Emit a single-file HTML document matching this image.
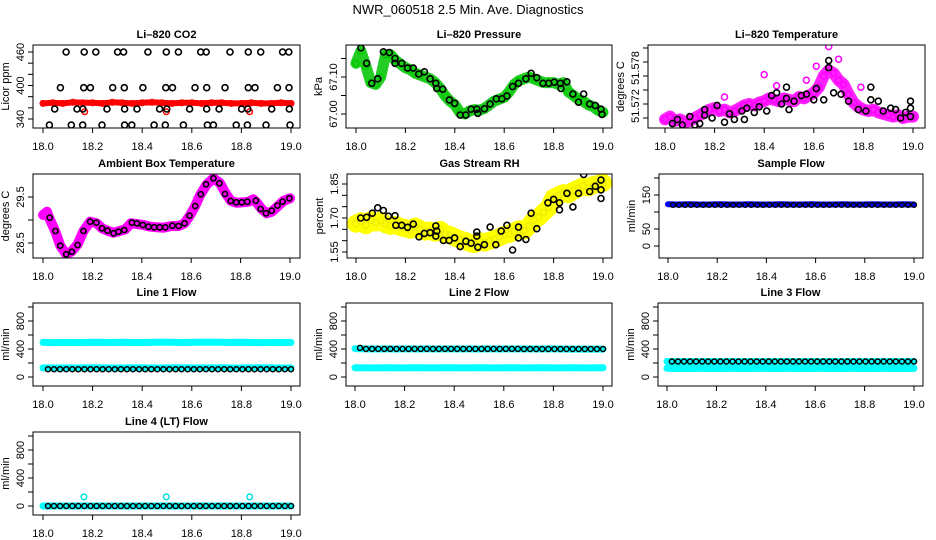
<!DOCTYPE html>
<html><head><meta charset="utf-8"><title>NWR_060518 2.5 Min. Ave. Diagnostics</title>
<style>
html,body{margin:0;padding:0;background:#fff;}
svg{display:block;font-family:"Liberation Sans",Arial,sans-serif;}
.tl{font-size:11px;fill:#000;}
.tt{font-size:11px;font-weight:bold;fill:#000;}
</style></head>
<body>
<svg id="chart" width="936" height="540" viewBox="0 0 936 540" xmlns="http://www.w3.org/2000/svg">
<rect width="936" height="540" fill="#fff"/>
<text x="468" y="14" text-anchor="middle" style="font-size:13px">NWR_060518  2.5 Min. Ave. Diagnostics</text>
</svg>
<script>
// ---------- data ----------
const xTicks=[18.0,18.2,18.4,18.6,18.8,19.0];
const xTickLabels=["18.0","18.2","18.4","18.6","18.8","19.0"];

// CO2
const co2BlackT=[18.093,18.166,18.213,18.301,18.325,18.423,18.497,18.546,18.636,18.658,18.754,18.828,18.878,18.966,18.991,
18.070,18.164,18.191,18.281,18.328,18.403,18.495,18.522,18.613,18.660,18.734,18.828,18.855,18.945,18.992,
18.047,18.137,18.161,18.258,18.329,18.379,18.470,18.499,18.591,18.660,18.710,18.801,18.826,18.922,18.993,
18.026,18.114,18.160,18.238,18.329,18.358,18.448,18.493,18.566,18.663,18.687,18.779,18.824,18.899,18.996];
const co2BlackV=[460,460,460,460,460,460,460,460,460,460,460,460,460,460,460,
396,396,396,396,396,396,396,396,396,396,396,396,396,396,396,
358,358,358,358,358,358,358,358,358,358,358,358,358,358,358,
329,329,329,329,329,329,329,329,329,329,329,329,329,329,329];
const co2RedV=[368,369,368,370,369,369,368,370,369,368,369,370,369,368,369,369,368,369,369,368,368,369,368,368,369,368];
const co2RedOutT=[18.168,18.497,18.833];
const co2RedOutV=[353,353,353];

// Pressure
const presGreenV=[67.137,67.170,67.130,67.085,67.080,67.100,67.160,67.160,67.145,67.135,67.125,67.120,67.110,67.105,67.100,67.095,67.085,67.070,67.050,67.035,67.025,67.005,67.000,67.008,67.012,67.010,67.015,67.025,67.035,67.040,67.045,67.060,67.080,67.090,67.095,67.100,67.095,67.090,67.085,67.085,67.085,67.080,67.085,67.060,67.050,67.040,67.035,67.025,67.020,67.010,67.005];
const presBlackT=[18.020,18.043,18.064,18.088,18.111,18.135,18.158,18.158,18.185,18.209,18.232,18.254,18.277,18.300,18.323,18.327,18.351,18.378,18.399,18.422,18.445,18.466,18.489,18.493,18.520,18.543,18.568,18.591,18.611,18.634,18.658,18.688,18.709,18.732,18.757,18.780,18.803,18.827,18.830,18.854,18.878,18.901,18.922,18.946,18.969,18.992,18.996];
const presBlackV=[67.179,67.137,67.083,67.095,67.168,67.166,67.150,67.137,67.137,67.124,67.124,67.108,67.114,67.095,67.083,67.069,67.067,67.038,67.029,66.997,66.997,67.013,67.013,67.002,67.014,67.027,67.041,67.041,67.049,67.074,67.083,67.095,67.110,67.098,67.083,67.083,67.086,67.083,67.069,67.087,67.054,67.032,67.054,67.027,67.023,67.013,66.999];

// Li-820 temperature
const tempMagV=[51.5709,51.5711,51.5708,51.5709,51.5707,51.5708,51.5710,51.5712,51.5714,51.5716,51.5717,51.5715,51.5716,51.5714,51.5715,51.5717,51.5719,51.5720,51.5719,51.5721,51.5722,51.5724,51.5723,51.5722,51.5724,51.5723,51.5722,51.5725,51.5724,51.5726,51.5728,51.5732,51.5740,51.5744,51.5742,51.5737,51.5734,51.5727,51.5721,51.5718,51.5716,51.5715,51.5716,51.5714,51.5713,51.5712,51.5711,51.5712,51.5710,51.5711,51.5711];
const tempMagOutT=[18.40,18.45,18.66,18.70,18.79,18.24,18.61,18.57];
const tempMagOutV=[51.5741,51.5733,51.5761,51.5752,51.5732,51.5725,51.5747,51.5737];
const tempBlackT=[18.03,18.05,18.07,18.10,18.12,18.14,18.16,18.16,18.19,18.21,18.24,18.26,18.28,18.31,18.32,18.33,18.36,18.38,18.41,18.43,18.45,18.47,18.49,18.49,18.50,18.52,18.55,18.57,18.60,18.61,18.64,18.66,18.66,18.68,18.71,18.74,18.78,18.81,18.83,18.83,18.86,18.88,18.91,18.93,18.95,18.97,18.99,18.99,18.99];
const tempBlackV=[51.5706,51.5709,51.5705,51.5711,51.5705,51.5706,51.5712,51.5716,51.5710,51.5719,51.5707,51.5713,51.5709,51.5715,51.5709,51.5717,51.5714,51.5718,51.5715,51.5726,51.5728,51.5720,51.5724,51.5732,51.5716,51.5722,51.5726,51.5727,51.5723,51.5731,51.5723,51.5751,51.5746,51.5728,51.5727,51.5722,51.5716,51.5715,51.5732,51.5723,51.5722,51.5715,51.5717,51.5716,51.5710,51.5714,51.5711,51.5717,51.5722];

// Ambient box temperature
const boxT=[18.0,18.016,18.026,18.050,18.070,18.093,18.115,18.140,18.164,18.191,18.218,18.239,18.261,18.286,18.310,18.333,18.356,18.380,18.407,18.434,18.461,18.488,18.522,18.549,18.573,18.596,18.616,18.636,18.663,18.690,18.717,18.741,18.761,18.784,18.811,18.832,18.852,18.868,18.885,18.906,18.926,18.946,18.973,19.0];
const boxMagV=[29.109,29.180,29.037,28.746,28.442,28.261,28.311,28.471,28.761,28.963,28.928,28.820,28.768,28.724,28.761,28.797,28.928,28.911,28.891,28.855,28.841,28.833,28.870,28.870,28.928,29.109,29.304,29.543,29.776,29.906,29.797,29.565,29.413,29.376,29.385,29.398,29.450,29.363,29.239,29.146,29.180,29.276,29.413,29.472];
const boxBlackT=[18.027,18.050,18.070,18.094,18.117,18.140,18.164,18.191,18.216,18.239,18.261,18.286,18.306,18.329,18.360,18.380,18.404,18.427,18.450,18.472,18.495,18.524,18.549,18.573,18.593,18.616,18.639,18.660,18.690,18.714,18.737,18.760,18.782,18.805,18.827,18.862,18.881,18.903,18.926,18.949,18.970,18.997];
const boxBlackV=[29.050,28.761,28.442,28.254,28.311,28.457,28.761,28.963,28.942,28.820,28.768,28.710,28.746,28.783,28.942,28.928,28.891,28.855,28.841,28.841,28.841,28.877,28.870,28.928,29.094,29.304,29.558,29.776,29.906,29.797,29.565,29.413,29.384,29.384,29.398,29.420,29.239,29.146,29.203,29.312,29.400,29.472];

// Gas stream RH
const rhYelV=[1.675,1.685,1.668,1.690,1.680,1.688,1.672,1.665,1.670,1.660,1.655,1.648,1.662,1.650,1.640,1.645,1.635,1.648,1.630,1.625,1.615,1.605,1.600,1.590,1.585,1.598,1.592,1.600,1.605,1.615,1.625,1.630,1.640,1.650,1.645,1.665,1.690,1.705,1.725,1.745,1.790,1.800,1.810,1.805,1.820,1.830,1.840,1.835,1.845,1.850,1.855];
const rhBlackT=[18.019,18.043,18.066,18.088,18.111,18.131,18.158,18.161,18.185,18.209,18.232,18.255,18.277,18.300,18.323,18.323,18.327,18.354,18.377,18.399,18.422,18.445,18.466,18.489,18.489,18.493,18.520,18.543,18.566,18.588,18.611,18.634,18.658,18.658,18.688,18.709,18.732,18.777,18.800,18.824,18.824,18.854,18.878,18.901,18.922,18.946,18.969,18.992,18.992,18.992];
const rhBlackV=[1.700,1.703,1.721,1.745,1.733,1.708,1.710,1.668,1.668,1.659,1.673,1.617,1.632,1.635,1.665,1.620,1.642,1.601,1.601,1.612,1.574,1.597,1.589,1.638,1.620,1.571,1.582,1.660,1.582,1.642,1.668,1.559,1.660,1.612,1.605,1.721,1.653,1.767,1.782,1.767,1.736,1.809,1.749,1.809,1.892,1.817,1.840,1.867,1.824,1.786];

// Flows
const sampleBlueV=[123,122,123,122,122,123,122,122,123,122,122,123,122,122,123,122,122,123,122,122,123,122,122,123,122];
const sampleBlackV=[121,121,121,121,121,121,121,121,121,121,121,121,121,121,121,121,121,121,121,121,121,121,121,121,121,121,121,121,121,121,121,121,121,121,121,121,121,121,121,121,121];
const line1CyanHiV=[495,492,495,493,494,497,494,495,496,493,495,497,496,495,494,496,497,496,495,497,494,492,493,494,493];
const line1CyanLoV=[130,128,130,129,130,131,130,129,130,131,130,129,130,131,130,129,130,131,130,129,130,131,130,129,130];
const line1BlackV=[112,112,112,112,112,112,112,112,112,112,112,112,112,112,112,112,112,112,112,112,112,112,112,112,112,112,112,112,112,112,112,112,112,112,112,112,112,112,112,112,112];
const line2CyanHiV=[405,402,400,401,400,402,400,401,400,402,400,401,400,402,400,401,400,402,400,401,400,398,398,398,398];
const line2CyanLoV=[132,130,130,131,130,130,131,130,130,131,130,130,131,130,130,131,130,130,131,130,130,131,130,130,131];
const line2BlackV=[415,402,402,402,402,402,402,402,402,402,402,402,402,402,402,402,402,402,402,402,402,402,402,402,402,402,402,400,400,400,400,400,400,400,400,400,400,400,400,400,400];
const line3CyanHiV=[222,220,221,220,221,220,221,220,221,220,221,220,221,220,221,220,221,220,221,220,221,220,221,220,221];
const line3CyanLoV=[125,122,122,123,122,122,123,122,122,123,122,122,123,122,122,123,122,122,123,122,122,123,122,122,123];
const line3BlackV=[222,222,222,222,222,222,222,222,222,222,222,222,222,222,222,222,222,222,222,222,222,222,222,222,222,222,222,222,222,222,222,222,222,222,222,222,222,222,222,222,222];
const line4CyanV=[0,0,0,0,0,0,0,0,0,0,0,0,0,0,0,0,0,0,0,0,0,0,0,0,0];
const line4CyanOutT=[18.165,18.497,18.833];
const line4CyanOutV=[130,130,130];
const line4BlackV=[0,0,0,0,0,0,0,0,0,0,0,0,0,0,0,0,0,0,0,0,0,0,0,0,0,0,0,0,0,0,0,0,0,0,0,0,0,0,0,0,0];

// ---------- drawing ----------
const NS="http://www.w3.org/2000/svg";
const svg=document.getElementById('chart');
function mk(tag,attrs,parent){const e=document.createElementNS(NS,tag);for(const k in attrs)e.setAttribute(k,attrs[k]);parent.appendChild(e);return e;}
function timesStep(n,start,step){const a=[];for(let i=0;i<n;i++)a.push(start+i*step);return a;}
let clipId=0;
function panel(c){
  const g=mk('g',{},svg);
  
  
  const sx=t=>c.x0+(t-18)*(c.x1-c.x0);
  const sy=v=>c.yp0+(v-c.yv0)*(c.yp1-c.yp0)/(c.yv1-c.yv0);
  const id='cl'+(clipId++);
  const cp=mk('clipPath',{id:id},g);
  mk('rect',{x:c.L,y:c.T,width:c.R-c.L,height:c.B-c.T},cp);
  const data=mk('g',{'clip-path':'url(#'+id+')'},g);
  
  
  const box=mk('rect',{x:c.L,y:c.T,width:c.R-c.L,height:c.B-c.T,fill:'none',stroke:'#000','stroke-width':1},g);
  
  
  const title=mk('text',{x:(c.L+c.R)/2,y:c.T-7,'text-anchor':'middle',class:'tt'},g);
  title.textContent=c.title;
  
  
  xTicks.forEach((t,i)=>{
    mk('line',{x1:sx(t),x2:sx(t),y1:c.B,y2:c.B+5,stroke:'#000'},g);
    const tx=mk('text',{x:sx(t),y:c.B+22,'text-anchor':'middle',class:'tl'},g);
    tx.textContent=xTickLabels[i];
    
    
  });
  c.yTicks.forEach((v,i)=>{
    const y=sy(v);
    mk('line',{x1:c.L-5,x2:c.L,y1:y,y2:y,stroke:'#000'},g);
    const lab=c.yLabels[i];
    if(lab){
      const ty=c.yLabelPos&&c.yLabelPos[i]!=null?c.yLabelPos[i]:y;
      const tx=mk('text',{x:c.L-9,y:ty,'text-anchor':'middle',class:'tl',transform:'rotate(-90 '+(c.L-9)+' '+ty+')'},g);
      tx.textContent=lab;
      
      
    }
  });
  const yc=(c.T+c.B)/2, xt=c.L-24;
  const yt=mk('text',{x:xt,y:yc,'text-anchor':'middle',class:'tl',transform:'rotate(-90 '+xt+' '+yc+')'},g);
  yt.textContent=c.ytitle;
  
  
  return {g:data,sx,sy};
}
function pts(p,ts,vs,color,r,sw,name){
  const g=mk('g',{},p.g);
  
  
  for(let i=0;i<vs.length;i++){
    mk('circle',{cx:p.sx(ts[i]).toFixed(1),cy:p.sy(vs[i]).toFixed(1),r:r,fill:'none',stroke:color,'stroke-width':sw},g);
  }
}
function band(p,ts,vs,color,w,name){
  let d='';
  for(let i=0;i<vs.length;i++)d+=(i?'L':'M')+p.sx(ts[i]).toFixed(1)+','+p.sy(vs[i]).toFixed(1);
  const e=mk('path',{d:d,fill:'none',stroke:color,'stroke-width':w,'stroke-linejoin':'round','stroke-linecap':'round'},p.g);
  
  
}
const t51=timesStep(51,18,0.02);
const t25=timesStep(25,18,1/24);
const t26=timesStep(26,18,0.04);
const t41=timesStep(41,18.02,0.0245);
const flowTicks=[0,200,400,600,800,1000];
const flowLabels=["0","","400","","800",""];

// P1 CO2
let p=panel({name:'panel-li820-co2',title:'Li\u2013820 CO2',ytitle:'Licor ppm',L:33,R:300,T:45,B:128,x0:43,x1:291,yv0:340,yp0:119,yv1:460,yp1:52,
 yTicks:[340,360,380,400,420,440,460],yLabels:["340","","","400","","","460"]});
band(p,t26,co2RedV,'#ff0000',6,'co2-red-band');
pts(p,t26,co2RedV,'#ff0000',2.8,1.5,'co2-red-points');
pts(p,co2RedOutT,co2RedOutV,'#ff0000',2.8,1.5,'co2-red-outliers');
pts(p,co2BlackT,co2BlackV,'#000',3,1.6,'co2-black-points');

// P2 Pressure
p=panel({name:'panel-li820-pressure',title:'Li\u2013820 Pressure',ytitle:'kPa',L:346,R:612,T:45,B:128,x0:356,x1:603,yv0:67.00,yp0:114,yv1:67.10,yp1:77,
 yTicks:[67.00,67.05,67.10,67.15],yLabels:["67.00","","67.10",""]});
band(p,t51,presGreenV,'#22cc22',11,'pressure-green-band');
pts(p,t51,presGreenV,'#00cc00',3,1.5,'pressure-green-points');
pts(p,presBlackT,presBlackV,'#000',3,1.6,'pressure-black-points');

// P3 Li-820 Temperature
p=panel({name:'panel-li820-temperature',title:'Li\u2013820 Temperature',ytitle:'degrees C',L:648,R:925,T:45,B:128,x0:665,x1:913,yv0:51.571,yp0:118,yv1:51.576,yp1:48,
 yTicks:[51.571,51.572,51.573,51.574,51.575,51.576],yLabels:["","51.572","","51.578","",""],yLabelPos:[null,106,null,68,null,null]});
band(p,t51,tempMagV,'#ff22ff',12,'temperature-magenta-band');
pts(p,t51,tempMagV,'#ff00ff',3,1.5,'temperature-magenta-points');
pts(p,tempMagOutT,tempMagOutV,'#ff00ff',3,1.5,'temperature-magenta-outliers');
pts(p,tempBlackT,tempBlackV,'#000',3,1.6,'temperature-black-points');

// P4 Ambient Box Temperature
p=panel({name:'panel-ambient-box-temperature',title:'Ambient Box Temperature',ytitle:'degrees C',L:33,R:300,T:174,B:258,x0:43,x1:290,yv0:28.5,yp0:243,yv1:29.5,yp1:197,
 yTicks:[28.5,29.0,29.5],yLabels:["28.5","","29.5"]});
band(p,boxT,boxMagV,'#ff00ff',10,'box-temperature-magenta-band');
pts(p,boxBlackT,boxBlackV,'#000',2.6,1.6,'box-temperature-black-points');

// P5 Gas Stream RH
p=panel({name:'panel-gas-stream-rh',title:'Gas Stream RH',ytitle:'percent',L:347,R:612,T:174,B:258,x0:356,x1:603,yv0:1.55,yp0:252,yv1:1.85,yp1:184,
 yTicks:[1.55,1.60,1.65,1.70,1.75,1.80,1.85],yLabels:["1.55","","","1.70","","","1.85"]});
band(p,t51,rhYelV,'#ffff00',18,'rh-yellow-band');
pts(p,t51,rhYelV,'#eeee00',3,1.5,'rh-yellow-points');
pts(p,rhBlackT,rhBlackV,'#000',3,1.6,'rh-black-points');

// P6 Sample Flow
p=panel({name:'panel-sample-flow',title:'Sample Flow',ytitle:'ml/min',L:659,R:923,T:174,B:258,x0:668,x1:914,yv0:0,yp0:246,yv1:150,yp1:195,
 yTicks:[0,50,100,150,200],yLabels:["0","50","","150",""]});
band(p,t25,sampleBlueV,'#0000ff',6,'sample-flow-blue-band');
pts(p,t41,sampleBlackV,'#000',2.4,1.4,'sample-flow-black-points');

// P7 Line 1
p=panel({name:'panel-line1-flow',title:'Line 1 Flow',ytitle:'ml/min',L:33,R:300,T:303,B:386,x0:43,x1:291,yv0:0,yp0:377,yv1:800,yp1:321,yTicks:flowTicks,yLabels:flowLabels});
band(p,t25,line1CyanHiV,'#00ffff',7,'line1-cyan-high');
band(p,t25,line1CyanLoV,'#00ffff',7,'line1-cyan-low');
pts(p,t41,line1BlackV,'#000',2.5,1.5,'line1-black-points');

// P8 Line 2
p=panel({name:'panel-line2-flow',title:'Line 2 Flow',ytitle:'ml/min',L:346,R:612,T:303,B:386,x0:355,x1:603,yv0:0,yp0:377,yv1:800,yp1:321,yTicks:flowTicks,yLabels:flowLabels});
band(p,t25,line2CyanHiV,'#00ffff',7,'line2-cyan-high');
band(p,t25,line2CyanLoV,'#00ffff',7,'line2-cyan-low');
pts(p,t41,line2BlackV,'#000',2.5,1.5,'line2-black-points');

// P9 Line 3
p=panel({name:'panel-line3-flow',title:'Line 3 Flow',ytitle:'ml/min',L:658,R:923,T:303,B:386,x0:667,x1:914,yv0:0,yp0:377,yv1:800,yp1:321,yTicks:flowTicks,yLabels:flowLabels});
band(p,t25,line3CyanHiV,'#00ffff',7,'line3-cyan-high');
band(p,t25,line3CyanLoV,'#00ffff',7,'line3-cyan-low');
pts(p,t41,line3BlackV,'#000',2.5,1.5,'line3-black-points');

// P10 Line 4
p=panel({name:'panel-line4-flow',title:'Line 4 (LT) Flow',ytitle:'ml/min',L:33,R:300,T:432,B:515,x0:43,x1:291,yv0:0,yp0:506,yv1:800,yp1:450,yTicks:flowTicks,yLabels:flowLabels});
band(p,t25,line4CyanV,'#00ffff',7,'line4-cyan-band');
pts(p,line4CyanOutT,line4CyanOutV,'#00dddd',2.8,1.5,'line4-cyan-outliers');
pts(p,t41,line4BlackV,'#000',2.5,1.5,'line4-black-points');
</script>
</body></html>
